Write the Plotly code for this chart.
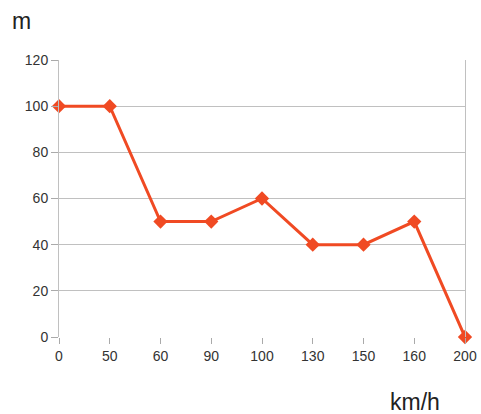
import plotly.graph_objects as go

speeds = ["0", "50", "60", "90", "100", "130", "150", "160", "200"]
distances = [100, 100, 50, 50, 60, 40, 40, 50, 0]
y_ticks = [0, 20, 40, 60, 80, 100, 120]

fig = go.Figure()
fig.add_trace(go.Scatter(
    x=speeds, y=distances, mode="lines+markers",
    line=dict(color="#F04A23", width=3),
    marker=dict(symbol="diamond", size=11, color="#F04A23"),
    cliponaxis=False,
))

fig.update_layout(
    width=481, height=414,
    margin=dict(l=59, r=16, t=60, b=77),
    paper_bgcolor="white", plot_bgcolor="white",
    font=dict(family="Liberation Sans, Arial, sans-serif", size=14, color="#333333"),
    showlegend=False,
    annotations=[
        dict(text="m", xref="paper", yref="paper", x=-0.12, y=1.142,
             xanchor="left", yanchor="middle", showarrow=False,
             font=dict(size=23, color="#222222")),
        dict(text="km/h", xref="paper", yref="paper", x=0.81, y=-0.235,
             xanchor="left", yanchor="middle", showarrow=False,
             font=dict(size=23, color="#222222")),
    ],
)
fig.update_xaxes(
    type="category", range=[0, len(speeds) - 1], automargin=False,
    showgrid=False, showline=False, zeroline=False,
    ticks="outside", ticklen=6, tickcolor="#aaaaaa", tickwidth=1,
    tickfont=dict(size=14, color="#333333"),
)
fig.update_yaxes(
    range=[0, 120], tickvals=y_ticks, automargin=False,
    showgrid=True, gridcolor="#c0c0c0", gridwidth=1,
    showline=True, mirror=True, linecolor="#c0c0c0", linewidth=1,
    zeroline=False,
    ticks="outside", ticklen=7, tickcolor="#aaaaaa",
    tickfont=dict(size=14, color="#333333"),
)

fig.write_html("out.html", config={"displayModeBar": False},
               post_script="document.body.style.margin='0';")
